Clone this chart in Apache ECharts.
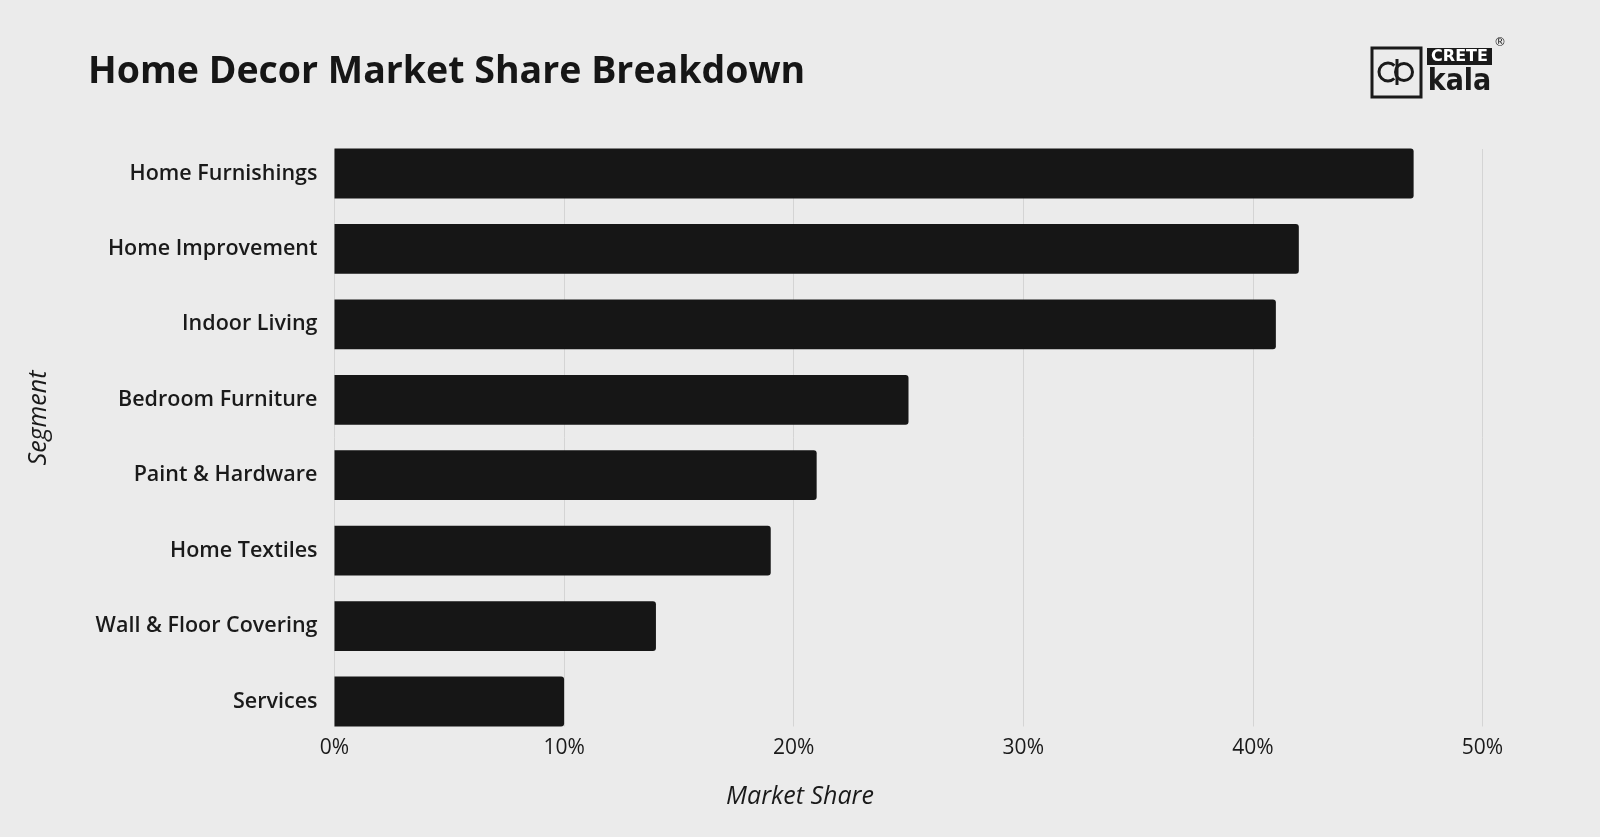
<!DOCTYPE html>
<html><head><meta charset="utf-8">
<script src="https://cdn.jsdelivr.net/npm/echarts@6/dist/echarts.min.js"></script>
<style>html,body{margin:0;padding:0;background:#ebebeb}#c{width:1600px;height:837px}</style>
</head><body><div id="c"></div>
<script>
const categories = ["Home Furnishings","Home Improvement","Indoor Living","Bedroom Furniture","Paint & Hardware","Home Textiles","Wall & Floor Covering","Services"];
const shares = [47, 42, 41, 25, 21, 19, 14, 10];
const xTicks = [0, 10, 20, 30, 40, 50];

const FONT = "Open Sans";
const chart = echarts.init(document.getElementById('c'));
chart.setOption({
  backgroundColor: '#ebebeb',
  animation: false,
  title: {
    text: 'Home Decor Market Share Breakdown',
    left: 83, top: 48,
    textStyle: {fontFamily: FONT, fontWeight: 'bold', fontSize: 37.5, color: '#161616'}
  },
  grid: [
    {left: 334.5, right: 117.5, top: 149, bottom: 110.5},
    {left: 334.5, right: 117.5, top: 135.8, bottom: 97.8}
  ],
  xAxis: [
    {type: 'value', gridIndex: 0, min: xTicks[0], max: xTicks[xTicks.length-1], interval: 10,
     axisLine: {show: false}, axisTick: {show: false},
     splitLine: {show: true, lineStyle: {color: '#d4d4d4', width: 1}},
     axisLabel: {formatter: '{value}%', margin: 11, fontFamily: FONT, fontWeight: 500, fontSize: 21, color: '#1a1a1a'}},
    {type: 'value', gridIndex: 1, min: xTicks[0], max: xTicks[xTicks.length-1], interval: 10, show: false}
  ],
  yAxis: [
    {type: 'category', gridIndex: 0, data: categories, inverse: true, show: false},
    {type: 'category', gridIndex: 1, data: categories, inverse: true,
     axisLine: {show: false}, axisTick: {show: false},
     axisLabel: {margin: 17, fontFamily: FONT, fontWeight: 600, fontSize: 21.5, color: '#1a1a1a'}}
  ],
  series: [{
    type: 'bar', xAxisIndex: 1, yAxisIndex: 1, data: shares,
    barCategoryGap: '34%',
    itemStyle: {color: '#161616', borderRadius: [0, 3, 3, 0]}
  }],
  graphic: [
    {type: 'text', x: 800, y: 797, style: {text: 'Market Share', fill: '#1a1a1a', font: 'italic 500 25px "Open Sans"', align: 'center', verticalAlign: 'middle'}},
    {type: 'text', x: 39, y: 418, rotation: Math.PI/2, style: {text: 'Segment', fill: '#1a1a1a', font: 'italic 500 25px "Open Sans"', align: 'center', verticalAlign: 'middle'}},
    {type: 'rect', shape: {x: 1372, y: 48, width: 49, height: 49}, style: {fill: 'none', stroke: '#1a1a1a', lineWidth: 3}},
    {type: 'arc', shape: {cx: 1388, cy: 72, r: 9, startAngle: 0.8, endAngle: 5.5}, style: {fill: 'none', stroke: '#1a1a1a', lineWidth: 3}},
    {type: 'circle', shape: {cx: 1404, cy: 72, r: 8.5}, style: {fill: 'none', stroke: '#1a1a1a', lineWidth: 3}},
    {type: 'line', shape: {x1: 1397, y1: 59, x2: 1397, y2: 85}, style: {stroke: '#1a1a1a', lineWidth: 3}},
    {type: 'rect', shape: {x: 1427, y: 48, width: 65, height: 17}, style: {fill: '#1a1a1a'}},
    {type: 'text', x: 1459.5, y: 57, style: {text: 'CRETE', fill: '#ffffff', font: 'bold 16px "DejaVu Sans"', align: 'center', verticalAlign: 'middle'}},
    {type: 'text', x: 1459.5, y: 82, style: {text: 'kala', fill: '#1a1a1a', font: 'bold 30px "DejaVu Sans Condensed"', align: 'center', verticalAlign: 'middle'}},
    {type: 'text', x: 1500, y: 43, style: {text: '®', fill: '#1a1a1a', font: '12px "DejaVu Sans"', align: 'center', verticalAlign: 'middle'}}
  ]
});
</script></body></html>
